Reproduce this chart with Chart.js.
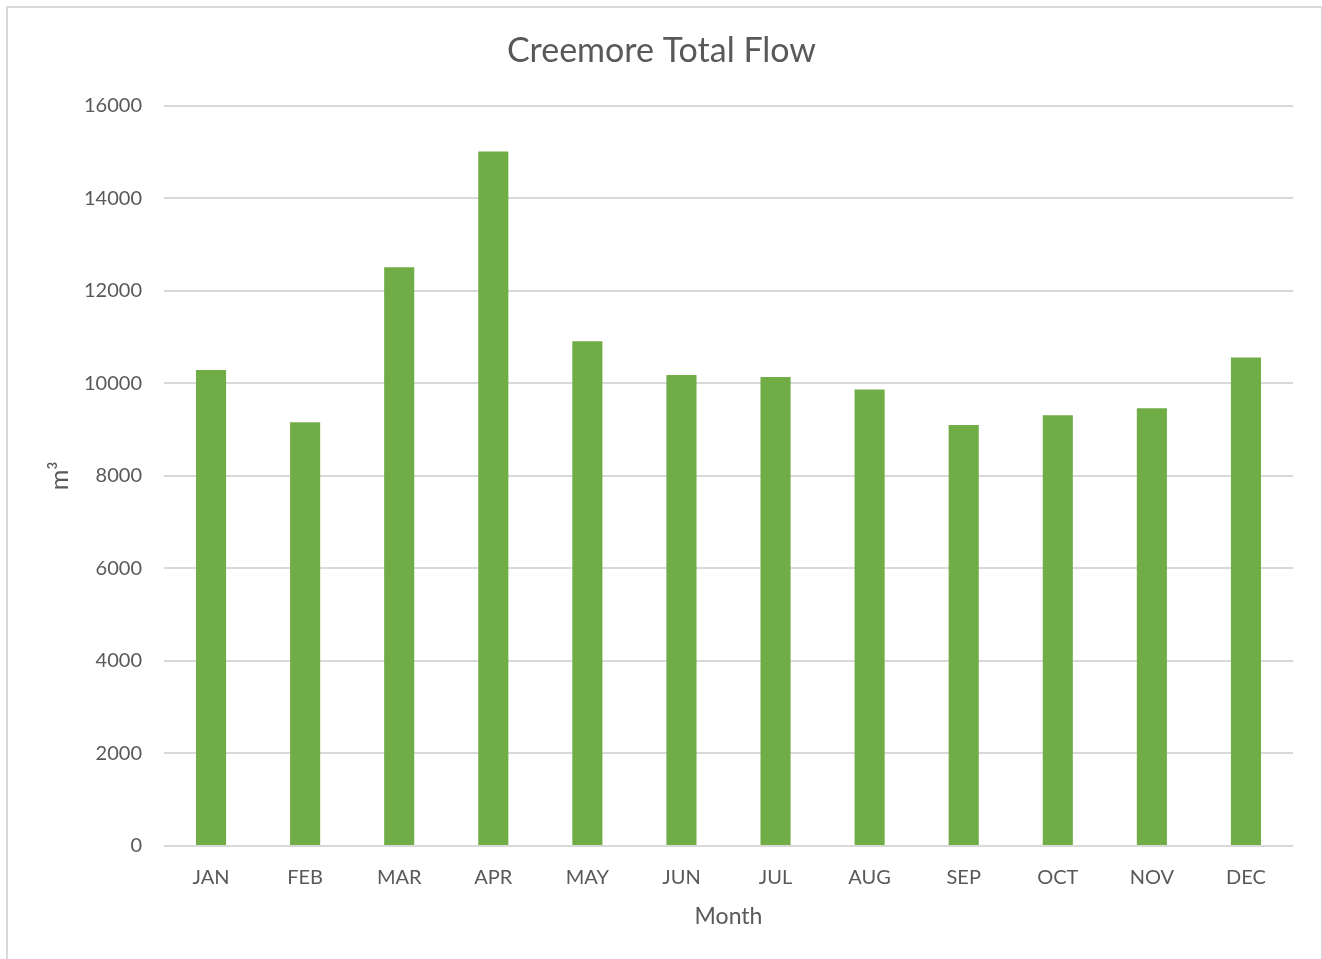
<!DOCTYPE html>
<html>
<head>
<meta charset="utf-8">
<script src="https://cdn.jsdelivr.net/npm/chart.js@4/dist/chart.umd.min.js"></script>
<style>
  html, body { margin: 0; padding: 0; background: #fff; overflow: hidden; }
  #frame { position: absolute; left: 6px; top: 6px; width: 1313px; height: 1000px; border: 2px solid #d9d9d9; }
  #wrap { position: absolute; left: 0; top: 0; width: 1322px; height: 959px; }
</style>
</head>
<body>
<div id="frame"></div>
<div id="wrap"><canvas id="chart" width="1322" height="959"></canvas></div>
<script>
// Creemore total flow per month (m3)
const months = ['JAN', 'FEB', 'MAR', 'APR', 'MAY', 'JUN', 'JUL', 'AUG', 'SEP', 'OCT', 'NOV', 'DEC'];
const totalFlow = [10290, 9160, 12510, 15010, 10910, 10180, 10140, 9870, 9100, 9310, 9460, 10560];
const yTicks = [0, 2000, 4000, 6000, 8000, 10000, 12000, 14000, 16000];

const textColor = '#595959';
const gridColor = '#d9d9d9';
const fontFamily = "Lato, 'Open Sans', sans-serif";

new Chart(document.getElementById('chart').getContext('2d'), {
    type: 'bar',
    data: {
        labels: months,
        datasets: [{
            label: 'Total Flow',
            data: totalFlow,
            backgroundColor: '#70ad47',
            borderWidth: 0,
            barPercentage: 0.32,
            categoryPercentage: 1
        }]
    },
    options: {
        responsive: false,
        animation: false,
        layout: { padding: { left: 30, right: 29, top: 0, bottom: 25 } },
        plugins: {
            legend: { display: false },
            tooltip: { enabled: false },
            title: {
                display: true,
                text: 'Creemore Total Flow',
                color: textColor,
                font: { family: fontFamily, size: 34, weight: 'normal' },
                padding: { top: 31, bottom: 34 }
            }
        },
        scales: {
            x: {
                grid: { display: false },
                border: { display: false },
                ticks: { color: textColor, font: { family: fontFamily, size: 20 }, padding: 12 },
                title: {
                    display: true,
                    text: 'Month',
                    color: textColor,
                    font: { family: fontFamily, size: 23 },
                    padding: { top: 21 }
                },
                afterFit: function(scale) { scale.height = 88; }
            },
            y: {
                min: 0,
                max: 16000,
                afterBuildTicks: function(scale) {
                    scale.ticks = yTicks.map(v => ({ value: v }));
                },
                grid: { color: gridColor, lineWidth: 2, drawTicks: false },
                border: { display: false },
                ticks: {
                    color: textColor,
                    font: { family: fontFamily, size: 20 },
                    padding: 22,
                    callback: function(value) { return String(value); }
                },
                title: {
                    display: true,
                    text: 'm³',
                    color: textColor,
                    font: { family: fontFamily, size: 25 },
                    padding: { top: 15 }
                },
                afterFit: function(scale) { scale.width = 134; }
            }
        }
    }
});
</script>
</body>
</html>
